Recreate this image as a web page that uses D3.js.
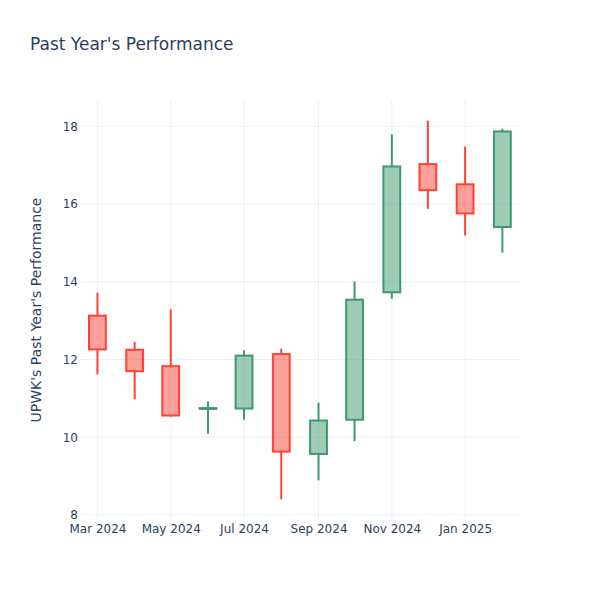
<!DOCTYPE html>
<html>
<head>
<meta charset="utf-8">
<script src="https://cdn.jsdelivr.net/npm/d3@7/dist/d3.min.js"></script>
<style>
  body { margin: 0; background: #fff; }
  svg { display: block; }
  text { font-family: "DejaVu Sans", "Open Sans", sans-serif; fill: #2a3f5f; }
</style>
</head>
<body>
<svg id="chart" width="600" height="600"></svg>
<script>
const dates = ["2024-03-01","2024-04-01","2024-05-01","2024-06-01","2024-07-01","2024-08-01",
               "2024-09-01","2024-10-01","2024-11-01","2024-12-01","2025-01-01","2025-02-01"];
const openV  = [13.13, 12.25, 11.83, 10.73, 10.74, 12.14,  9.57, 10.45, 13.73, 17.03, 16.51, 15.41];
const highV  = [13.72, 12.45, 13.29, 10.92, 12.24, 12.28, 10.89, 14.01, 17.80, 18.15, 17.48, 17.94];
const lowV   = [11.62, 10.98, 10.53, 10.09, 10.45,  8.40,  8.89,  9.90, 13.56, 15.88, 15.19, 14.75];
const closeV = [12.26, 11.70, 10.56, 10.75, 12.10,  9.63, 10.43, 13.54, 16.97, 16.36, 15.76, 17.87];
const yTicks = [8, 10, 12, 14, 16, 18];
const xTickDates = ["2024-03-01","2024-05-01","2024-07-01","2024-09-01","2024-11-01","2025-01-01"];

const parse = d3.utcParse("%Y-%m-%d");
const data = dates.map((d, i) => ({
  date: parse(d), open: openV[i], high: highV[i], low: lowV[i], close: closeV[i]
}));

const svg = d3.select("#chart");
const L = 80, R = 520, T = 100, B = 520;

const x = d3.scaleUtc()
  .domain([new Date(Date.UTC(2024, 1, 15, 12)), new Date(Date.UTC(2025, 1, 15, 16))])
  .range([L, R]);
const y = d3.scaleLinear().domain([7.87, 18.68]).range([B, T]);

// gridlines
const grid = svg.append("g");
grid.selectAll("line.h").data(yTicks).join("line")
  .attr("x1", L).attr("x2", R)
  .attr("y1", d => y(d)).attr("y2", d => y(d))
  .attr("stroke", "#EBF0F8").attr("stroke-width", 1);
grid.selectAll("line.v").data(xTickDates.map(parse)).join("line")
  .attr("x1", d => x(d)).attr("x2", d => x(d))
  .attr("y1", T).attr("y2", B)
  .attr("stroke", "#EBF0F8").attr("stroke-width", 1);

// axes
const yAxis = d3.axisLeft(y).tickValues(yTicks).tickSize(0).tickPadding(2).tickFormat(d3.format("d"));
const gy = svg.append("g").attr("transform", `translate(${L},0)`).call(yAxis);
gy.select(".domain").remove();
gy.selectAll("text").style("font-size", "12px").attr("fill", "#2a3f5f")
  .style("font-family", "'DejaVu Sans', sans-serif");

const xAxis = d3.axisBottom(x).tickValues(xTickDates.map(parse)).tickSize(0).tickPadding(4)
  .tickFormat(d3.utcFormat("%b %Y"));
const gx = svg.append("g").attr("transform", `translate(0,${B})`).call(xAxis);
gx.select(".domain").remove();
gx.selectAll("text").style("font-size", "12px").attr("fill", "#2a3f5f")
  .style("font-family", "'DejaVu Sans', sans-serif");

// candles
const inc = { line: "#3D9970", fill: "rgba(61,153,112,0.5)" };
const dec = { line: "#FF4136", fill: "rgba(255,65,54,0.5)" };
const halfW = 7 * 24 * 3600 * 1000;

const candles = svg.append("g").selectAll("g").data(data).join("g");
candles.each(function(d) {
  const g = d3.select(this);
  const c = d.close >= d.open ? inc : dec;
  const cx = x(d.date);
  const top = Math.max(d.open, d.close), bot = Math.min(d.open, d.close);
  g.append("line")
    .attr("x1", cx).attr("x2", cx).attr("y1", y(d.high)).attr("y2", y(top))
    .attr("stroke", c.line).attr("stroke-width", 2);
  g.append("line")
    .attr("x1", cx).attr("x2", cx).attr("y1", y(bot)).attr("y2", y(d.low))
    .attr("stroke", c.line).attr("stroke-width", 2);
  const x0 = x(new Date(d.date.getTime() - halfW));
  const x1 = x(new Date(d.date.getTime() + halfW));
  g.append("rect")
    .attr("x", x0).attr("width", x1 - x0)
    .attr("y", y(top)).attr("height", Math.max(0.01, y(bot) - y(top)))
    .attr("fill", c.fill).attr("stroke", c.line).attr("stroke-width", 2);
});

// title
svg.append("text").attr("x", 30).attr("y", 50)
  .style("font-size", "17px").text("Past Year's Performance");

// y axis title
svg.append("text")
  .attr("transform", `translate(41,${(T + B) / 2}) rotate(-90)`)
  .attr("text-anchor", "middle")
  .style("font-size", "14px")
  .text("UPWK's Past Year's Performance");
</script>
</body>
</html>
